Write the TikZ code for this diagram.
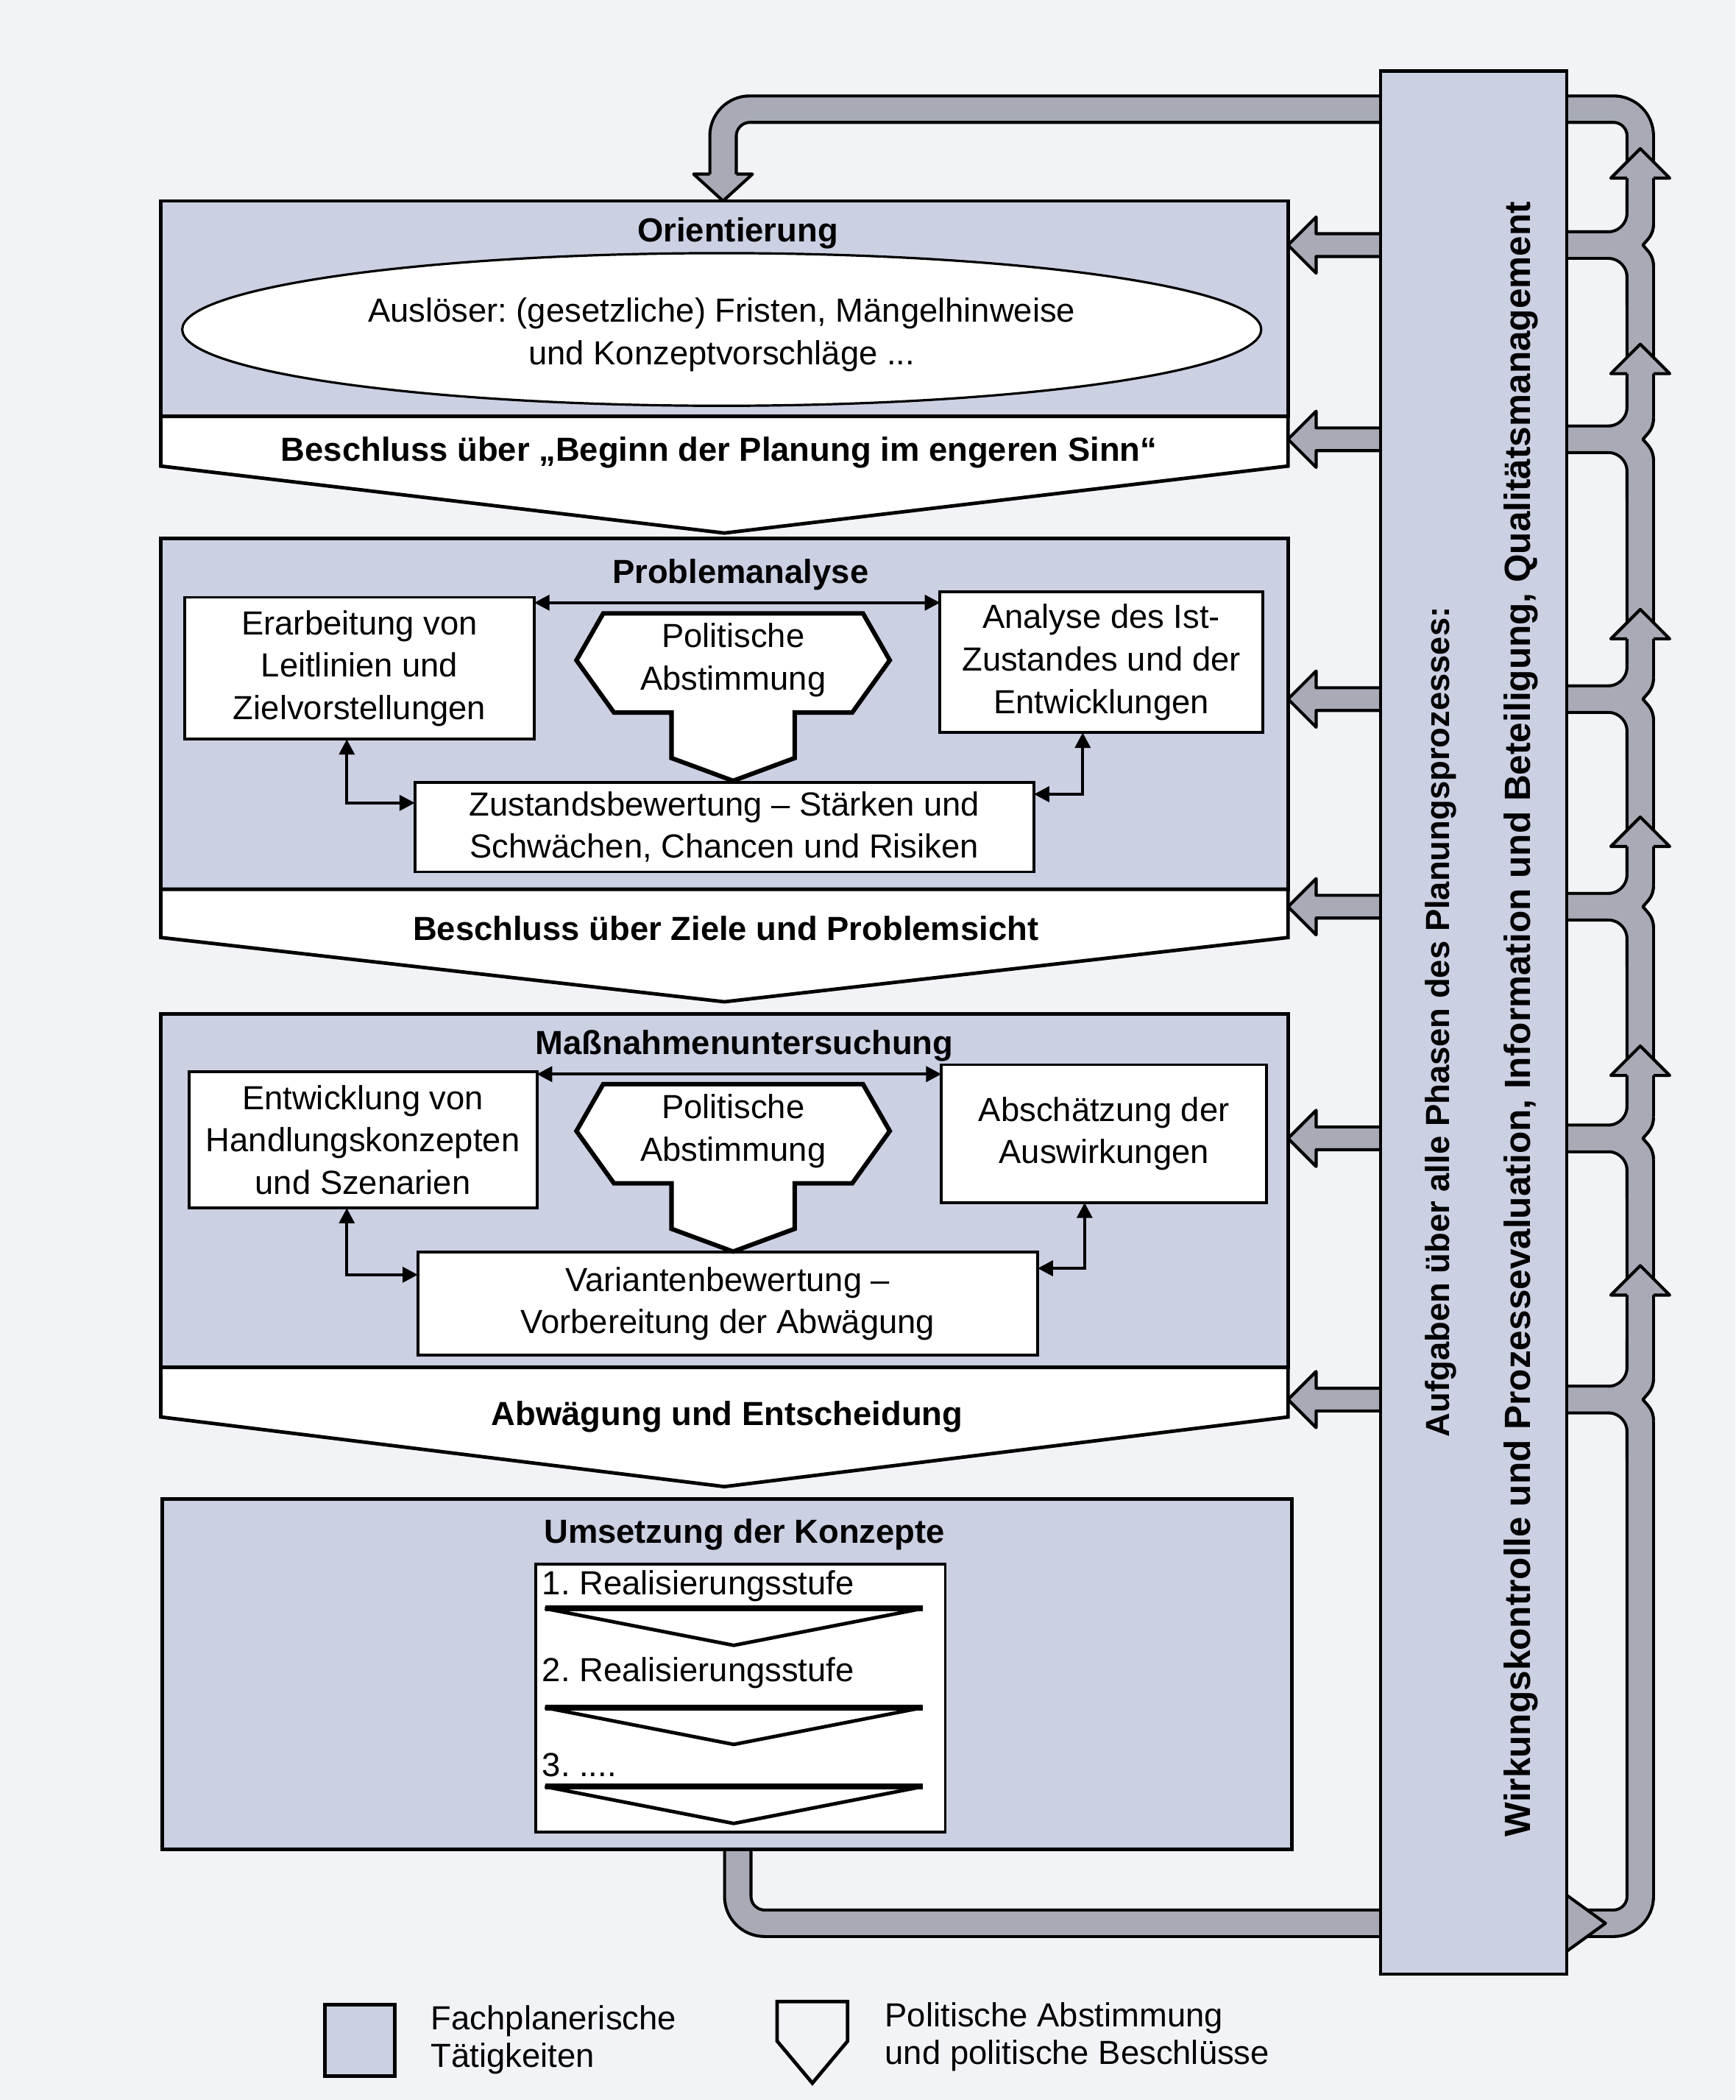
\documentclass[tikz,border=0pt]{standalone}
\usepackage{fontspec}
\setmainfont{Liberation Sans}
\frenchspacing
\usetikzlibrary{positioning,arrows.meta,shapes.geometric,calc,backgrounds}
\definecolor{pagebg}{RGB}{242,243,247}
\definecolor{panelgray}{RGB}{203,209,227}
\definecolor{pipegray}{RGB}{168,171,182}
\colorlet{bandfill}{white}

\begin{document}
\begin{tikzpicture}[x=0.02cm, y=-0.02cm,
  every node/.style={font=\fontsize{14.2}{18}\selectfont, inner sep=0pt, outer sep=0pt},
  title/.style={font=\bfseries\fontsize{14.2}{18}\selectfont},
  panel/.style={draw, line width=1.5pt, fill=panelgray, minimum width=16.84cm},
  band/.style={draw, line width=1.5pt, fill=bandfill, line join=miter},
  box/.style={draw, line width=1.2pt, fill=white, align=center},
  hexa/.style={draw, line width=1.9pt, fill=white, line join=miter},
  link/.style={line width=1.3pt, {Triangle[length=6.5pt,width=6.5pt]}-{Triangle[length=6.5pt,width=6.5pt]}},
  headline/.style={draw=black, line width=1.3pt, line join=round},
  abst/.pic={
    \draw[hexa] (-97,-125) -- (97,-125) -- (117,-90) -- (89,-51) -- (46,-51) -- (46,-17) -- (0,0) -- (-46,-17) -- (-46,-51) -- (-89,-51) -- (-117,-90) -- cycle;
    \node[align=center] (-txt) at (0,-90) {Politische\\Abstimmung};
  }]
  \node[panel, minimum height=3.22cm] (orient) at (541,230.5) {};
  \draw[band] (orient.south west) -- (orient.south east) -- (orient.east |- 0,348) -- (orient.south |- 0,398) -- (orient.west |- 0,348) -- cycle;
  \node[title] (orienttitle) at (551,174) {Orientierung};
  \node[draw, ellipse, line width=1pt, fill=white, minimum width=16.12cm, minimum height=2.28cm] (trigger) at (539,246) {};
  \node[align=center] (triggertxt) at (539,250) {Auslöser: (gesetzliche) Fristen, Mängelhinweise\\und Konzeptvorschläge ...};
  \node[title] (beschlA) at (537,338) {Beschluss über „Beginn der Planung im engeren Sinn“};

  \node[panel, minimum height=5.24cm] (probl) at (541,533) {};
  \draw[band] (probl.south west) -- (probl.south east) -- (probl.east |- 0,700) -- (probl.south |- 0,748) -- (probl.west |- 0,700) -- cycle;
  \node[title] (probltitle) at (553,429) {Problemanalyse};
  \node[box, minimum width=5.22cm, minimum height=2.12cm] (leit) at (268.5,499) {Erarbeitung von\\Leitlinien und\\Zielvorstellungen};
  \node[box, minimum width=4.82cm, minimum height=2.1cm] (ist) at (822.5,494.5) {Analyse des Ist-\\Zustandes und der\\Entwicklungen};
  \node[box, minimum width=9.25cm, minimum height=1.34cm] (zust) at (541,617.5) {Zustandsbewertung – Stärken und\\Schwächen, Chancen und Risiken};
  \pic (abstA) at (547.5,583) {abst};
  \draw[link] (leit.east |- 0,450) -- (ist.west |- 0,450);
  \draw[link] (leit.south -| 259,0) |- (zust.west |- 0,599.5);
  \draw[link] (ist.south -| 808.6,0) |- (zust.east |- 0,593);
  \node[title] (beschlB) at (542,693) {Beschluss über Ziele und Problemsicht};

  \node[panel, minimum height=5.28cm] (mass) at (541,889) {};
  \draw[band] (mass.south west) -- (mass.south east) -- (mass.east |- 0,1058) -- (mass.south |- 0,1110) -- (mass.west |- 0,1058) -- cycle;
  \node[title] (masstitle) at (556,781) {Maßnahmenuntersuchung};
  \node[box, minimum width=5.2cm, minimum height=2.04cm] (hand) at (271,851) {Entwicklung von\\Handlungskonzepten\\und Szenarien};
  \node[box, minimum width=4.86cm, minimum height=2.06cm] (ausw) at (824.5,846.5) {Abschätzung der\\Auswirkungen};
  \node[box, minimum width=9.26cm, minimum height=1.54cm] (var) at (543.5,973.5) {Variantenbewertung –\\Vorbereitung der Abwägung};
  \pic (abstB) at (547.5,934.5) {abst};
  \draw[link] (hand.east |- 0,802) -- (ausw.west |- 0,802);
  \draw[link] (hand.south -| 259,0) |- (var.west |- 0,951.8);
  \draw[link] (ausw.south -| 810,0) |- (var.east |- 0,947);
  \node[title] (beschlC) at (543,1058) {Abwägung und Entscheidung};

  \node[panel, minimum width=16.88cm, minimum height=5.24cm] (umset) at (543,1250) {};
  \node[title] (umsettitle) at (556,1146) {Umsetzung der Konzepte};
  \node[box, minimum width=6.12cm, minimum height=4cm] (stufen) at (553,1268) {};
  \foreach \t in {1201,1275,1334} {
    \draw[line width=1.5pt, line join=miter] (407,\t) -- (689,\t) -- (548,\t+27.5) -- cycle;
    \draw[line width=2.6pt] (407,\t) -- (689,\t);
  }
  \node[anchor=west] (stufeA) at (405,1184) {1. Realisierungsstufe};
  \node[anchor=west] (stufeB) at (405,1249) {2. Realisierungsstufe};
  \node[anchor=west] (stufeC) at (405,1318) {3. ....};

  \node[draw, line width=1.4pt, fill=panelgray, minimum width=2.78cm, minimum height=28.42cm] (bar) at (1100.5,763.5) {};
  \node[title, rotate=90] (barA) at (1076,763) {Aufgaben über alle Phasen des Planungsprozesses:};
  \node[title, rotate=90, font=\bfseries\fontsize{15.5}{18}\selectfont] (barB) at (1136,761) {Wirkungskontrolle und Prozessevaluation, Information und Beteiligung, Qualitätsmanagement};

  \node[draw, line width=1.5pt, fill=panelgray, minimum width=1.04cm, minimum height=1.06cm] (legA) at (268.75,1523.5) {};
  \node[anchor=west, align=left, font=\fontsize{14.2}{16}\selectfont] (legAtxt) at (322,1523) {Fachplanerische\\Tätigkeiten};
  \draw[band, fill=pagebg] (580.4,1494.5) -- (633,1494.5) -- (633,1524) -- (606.7,1555.4) -- (580.4,1524) -- cycle;
  \node[anchor=west, align=left, font=\fontsize{14.2}{16}\selectfont] (legBtxt) at (661,1521) {Politische Abstimmung\\und politische Beschlüsse};

  \begin{scope}[on background layer]
    \fill[pagebg] (0,0) rectangle (1296,1568);
    \foreach \lw/\col in {0.44cm/black,0.35cm/pipegray} {
      \draw[line width=\lw, draw=\col, rounded corners=0.4cm] (umset.south -| 551,0) -- (551,1436) -- (1225,1436) -- (1225,81.5) -- (540,81.5) -- (540,131);
      \foreach \y in {183,328,522,677,850,1045} {
        \draw[line width=\lw, draw=\col, rounded corners=0.48cm] (bar.east |- 0,\y) -- (1225,\y) -- (1225,\y-45);
        \draw[line width=\lw, draw=\col, rounded corners=0.48cm] (bar.east |- 0,\y) -- (1225,\y) -- (1225,\y+45);
      }
    }
    \foreach \y in {183,328,522,677,850,1045} {
      \fill[pagebg] (1238,\y-16) -- (1234.9,\y-16) .. controls (1234.9,\y-7) and (1230,\y-4) .. (1227,\y) .. controls (1230,\y+4) and (1234.9,\y+7) .. (1234.9,\y+16) -- (1238,\y+16) -- cycle;
      \draw[headline] (1234.9,\y-16) .. controls (1234.9,\y-7) and (1230,\y-4) .. (1227,\y) .. controls (1230,\y+4) and (1234.9,\y+7) .. (1234.9,\y+16);
    }
    \foreach \t in {111,257,455,610,781,945} {
      \fill[pipegray] (1225,\t) -- (1247,\t+22) -- (1203,\t+22) -- cycle;
      \draw[headline] (1215.1,\t+22) -- (1203,\t+22) -- (1225,\t) -- (1247,\t+22) -- (1234.9,\t+22);
    }
    \coordinate (dtip) at (orient.north -| 540,0);
    \fill[pipegray] (dtip) -- ++(-22,-20) -- ++(44,0) -- cycle;
    \draw[headline] (530.1,130) -- (518,130) -- (dtip) -- (562,130) -- (549.9,130);
    \filldraw[fill=pipegray, headline] (bar.east |- 0,1415) -- (1199,1436) -- (bar.east |- 0,1457) -- cycle;
    \foreach \p/\y in {orient/183,orient/328,probl/522,probl/677,mass/850,mass/1045}
      \filldraw[fill=pipegray, headline] (\p.east |- 0,\y) -- ++(21,-21) -- ++(0,12.5) -- ++(75,0) -- ++(0,17) -- ++(-75,0) -- ++(0,12.5) -- cycle;
  \end{scope}
\end{tikzpicture}
\end{document}
